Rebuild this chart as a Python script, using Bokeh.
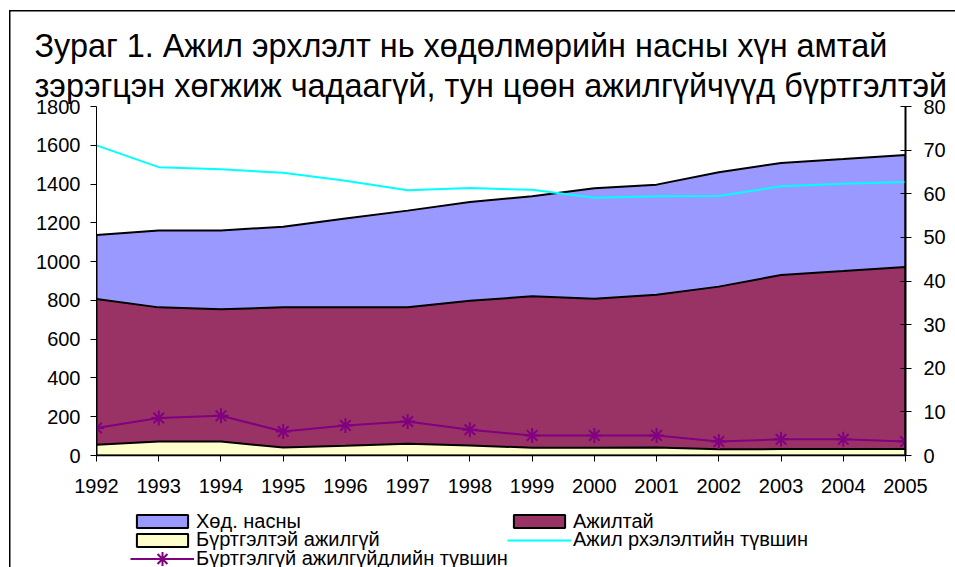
from bokeh.plotting import figure
from bokeh.layouts import column
from bokeh.models import (Range1d, LinearAxis, FixedTicker, Legend, LegendItem, Title)
from bokeh.embed import file_html
from bokeh.resources import INLINE

# ---------------- data ----------------
years = list(range(1992, 2006))
working_age = [1137, 1161, 1161, 1180, 1222, 1263, 1307, 1337, 1378, 1397, 1461, 1509, 1529, 1550]
employed = [807, 764, 754, 764, 764, 764, 798, 821, 809, 829, 871, 931, 951, 972]
reg_unemployed = [55, 72, 72, 41, 50, 60, 52, 40, 40, 41, 32, 33, 34, 33]
employment_rate = [71.1, 66.1, 65.6, 64.8, 63.0, 60.8, 61.3, 60.9, 59.1, 59.4, 59.5, 61.7, 62.3, 62.7]
unemployment_rate = [6.3, 8.6, 9.1, 5.5, 6.9, 7.8, 5.9, 4.6, 4.6, 4.6, 3.2, 3.7, 3.7, 3.2]

left_ticks = list(range(0, 1801, 200))
right_ticks = list(range(0, 81, 10))

title_line1 = "Зураг 1. Ажил эрхлэлт нь хөдөлмөрийн насны хүн амтай"
title_line2 = "зэрэгцэн хөгжиж чадаагүй, тун цөөн ажилгүйчүүд бүртгэлтэй"
series_names = ["Хөд. насны", "Ажилтай", "Бүртгэлтэй ажилгүй",
                "Ажил рхэлэлтийн түвшин", "Бүртгэлгүй ажилгүйдлийн түвшин"]

FONT = "Liberation Sans"
BLUE, MAROON, YELLOW, CYAN, PURPLE = "#9999FF", "#993366", "#FFFFCC", "#00FFFF", "#800080"


def area_poly(vals):
    xs = years + years[::-1]
    ys = list(vals) + [0] * len(vals)
    return xs, ys


def draw_series(fig):
    """Draw all five series on a figure; returns the renderers (for legends)."""
    out = {}
    xs, ys = area_poly(working_age)
    out["blue"] = fig.patch(xs, ys, fill_color=BLUE, line_color="black", line_width=2)
    xs, ys = area_poly(employed)
    out["maroon"] = fig.patch(xs, ys, fill_color=MAROON, line_color="black", line_width=2)
    xs, ys = area_poly(reg_unemployed)
    out["yellow"] = fig.patch(xs, ys, fill_color=YELLOW, line_color="black", line_width=2)
    out["cyan"] = fig.line(years, employment_rate, y_range_name="rate",
                           line_color=CYAN, line_width=2)
    out["purple"] = fig.line(years, unemployment_rate, y_range_name="rate",
                             line_color=PURPLE, line_width=2)
    out["star"] = fig.scatter(years, unemployment_rate, y_range_name="rate", marker="asterisk",
                              size=15, line_color=PURPLE, line_width=2)
    return out


# ---------------- main figure ----------------
W = 955
H_MAIN, H_LEG = 505, 62
p = figure(width=W, height=H_MAIN, x_range=Range1d(1992, 2005), y_range=Range1d(0, 1800),
           title=None, output_backend="svg", toolbar_location=None,
           min_border_left=96, min_border_right=50, min_border_top=106, min_border_bottom=50)
p.extra_y_ranges = {"rate": Range1d(0, 80)}
p.xgrid.visible = False
p.ygrid.visible = False
p.outline_line_color = None
p.background_fill_color = "white"
p.border_fill_color = None
# outer chart border (left and top edges; the rest runs off the picture)
p.styles = {
    "background-color": "white",
    "background-image": "linear-gradient(#000, #000), linear-gradient(#000, #000)",
    "background-repeat": "no-repeat",
    "background-position": "9px 10px, 9px 10px",
    "background-size": "1.5px 800px, 1200px 1.5px",
}

draw_series(p)

# ---------------- axes ----------------
def style_axis(ax, size="20px"):
    ax.axis_line_color = "black"
    ax.major_tick_line_color = "black"
    ax.minor_tick_line_color = None
    ax.major_label_text_font = FONT
    ax.major_label_text_font_size = size
    ax.major_label_text_color = "black"
    ax.major_label_text_font_style = "normal"


xa = p.xaxis[0]
xa.ticker = FixedTicker(ticks=years)
style_axis(xa)
xa.major_tick_out = 6
xa.major_tick_in = 0
xa.major_label_standoff = 17
xa.axis_line_width = 1.5

ya = p.yaxis[0]
ya.ticker = FixedTicker(ticks=left_ticks)
style_axis(ya)
ya.major_tick_out = 6
ya.major_tick_in = 0
ya.major_label_standoff = 10

ra = LinearAxis(y_range_name="rate", ticker=FixedTicker(ticks=right_ticks))
style_axis(ra)
ra.major_tick_out = 6
ra.major_tick_in = 5
ra.major_label_standoff = 12
ra.axis_line_width = 2
p.add_layout(ra, "right")

# ---------------- title (two lines, nearest to the frame first) ----------------
for txt, so in [(title_line2, 6), (title_line1, -3)]:
    p.add_layout(Title(text=txt, align="left", offset=-62, standoff=so,
                       text_font=FONT, text_font_size="32.4px", text_font_style="normal",
                       text_color="black"), "above")

# ---------------- legend strip (own small figure below the chart) ----------------
# The series are drawn here too, but the ranges keep them out of view: they only
# serve as the legend's glyph sources.
lf = figure(width=W, height=H_LEG, x_range=Range1d(0, 1), y_range=Range1d(0, 1),
            title=None, output_backend="svg", toolbar_location=None,
            x_axis_location=None, y_axis_location=None, min_border=0)
lf.extra_y_ranges = {"rate": Range1d(-1000, -999)}
lf.xgrid.visible = False
lf.ygrid.visible = False
lf.outline_line_color = None
lf.background_fill_color = None
lf.border_fill_color = None
lf.styles = {
    "background-color": "white",
    "background-image": "linear-gradient(#000, #000)",
    "background-repeat": "no-repeat",
    "background-position": "9px 0px",
    "background-size": "1.5px 800px",
}

k = draw_series(lf)

rows = [
    ([LegendItem(label=series_names[0], renderers=[k["blue"]]),
      LegendItem(label=series_names[1], renderers=[k["maroon"]])], 34.3, 16),
    ([LegendItem(label=series_names[2], renderers=[k["yellow"]]),
      LegendItem(label=series_names[3], renderers=[k["cyan"]])], 15.8, 16),
    ([LegendItem(label=series_names[4], renderers=[k["purple"], k["star"]])], -9.0, 35),
]
for items, yy, gh in rows:
    leg = Legend(items=items, location=(34, yy), orientation="horizontal",
                 glyph_width=64, glyph_height=gh, label_standoff=2, label_width=311,
                 label_height=14, spacing=0, padding=0, margin=0,
                 border_line_color=None, background_fill_alpha=0,
                 label_text_font=FONT, label_text_font_size="20px",
                 label_text_color="black")
    lf.add_layout(leg)

page = column(p, lf, spacing=0)
open("out.html", "w").write(file_html(page, INLINE))
